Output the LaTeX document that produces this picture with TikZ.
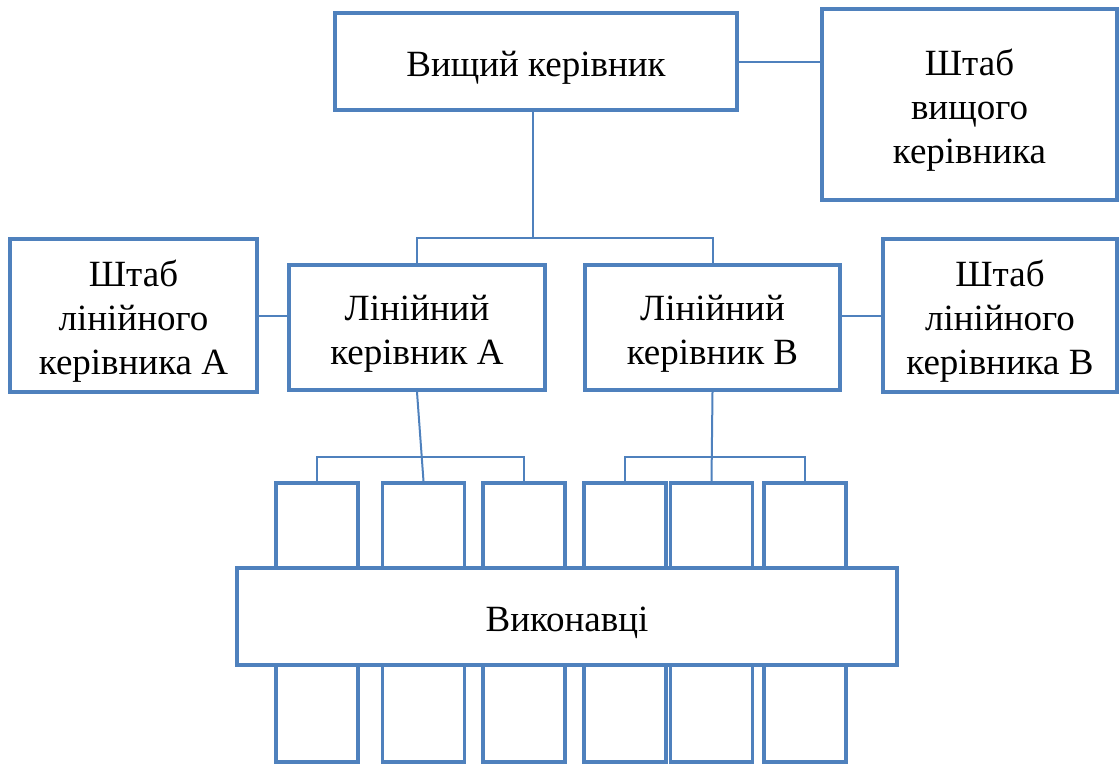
\documentclass[tikz,border=0pt]{standalone}
\usepackage{fontspec}
\setmainfont{Liberation Serif}
\usetikzlibrary{calc}
\definecolor{orgblue}{HTML}{4F81BD}
\tikzstyle{unit} = [
    rectangle,
    draw=orgblue,
    line width=2pt,
    fill=white,
    align=center,
    inner sep=0pt,
    font=\fontsize{18.5}{22}\selectfont
]
\tikzstyle{oneline} = [text height=18.8pt]
\tikzstyle{twolines} = [text height=40.8pt]
\tikzstyle{threelines} = [text height=62.8pt]
\tikzstyle{worker} = [
    rectangle,
    draw=orgblue,
    line width=1.9pt,
    minimum width=41pt,
    minimum height=139.5pt
]
\tikzstyle{link} = [draw=orgblue, line width=1pt]

\begin{document}
\begin{tikzpicture}[x=0.5pt, y=-0.5pt]

\useasboundingbox (0,0) rectangle (1119,766);

\node (chief) [unit, oneline, minimum width=201pt, minimum height=48.5pt] at (536,61.5)
{Вищий керівник};

\node (chiefstaff) [unit, threelines, minimum width=147.5pt, minimum height=95.5pt] at (969.5,104.5)
{Штаб\\вищого\\керівника};

\node (staffA) [unit, threelines, minimum width=123.5pt, minimum height=76.5pt] at (133.5,315.5)
{Штаб\\лінійного\\керівника А};

\node (lineA) [unit, twolines, minimum width=128pt, minimum height=62.5pt] at (417,327.5)
{Лінійний\\керівник А};

\node (lineB) [unit, twolines, minimum width=127.5pt, minimum height=62.5pt] at (712.5,327.5)
{Лінійний\\керівник В};

\node (staffB) [unit, threelines, minimum width=117pt, minimum height=76.5pt] at (1000,315.5)
{Штаб\\лінійного\\керівника В};

\node (ex1) [worker] at (317,622.5) {};
\node (ex2) [worker] at (423.5,622.5) {};
\node (ex3) [worker] at (524,622.5) {};
\node (ex4) [worker] at (625,622.5) {};
\node (ex5) [worker] at (711.5,622.5) {};
\node (ex6) [worker] at (805,622.5) {};

\node (workers) [unit, oneline, minimum width=330pt, minimum height=48.5pt] at (567,616.5)
{Виконавці};

\coordinate (jTop) at (533,238);
\coordinate (jA) at (420,457);
\coordinate (jB) at (712,457);

\draw [link] (chief.east) -- (chiefstaff.west |- chief.east);
\draw [link] (chief.south -| jTop) -- (jTop);
\draw [link] (lineA.north) |- (jTop) -| (lineB.north);
\draw [link] (staffA.east) -- (lineA.west |- staffA.east);
\draw [link] (staffB.west) -- (lineB.east |- staffB.west);

\draw [link] (lineA.south) -- (ex2.north);
\draw [link] (ex1.north) |- (jA) -| (ex3.north);
\draw [link] (lineB.south) -- (ex5.north);
\draw [link] (ex4.north) |- (jB) -| (ex6.north);

\end{tikzpicture}
\end{document}
